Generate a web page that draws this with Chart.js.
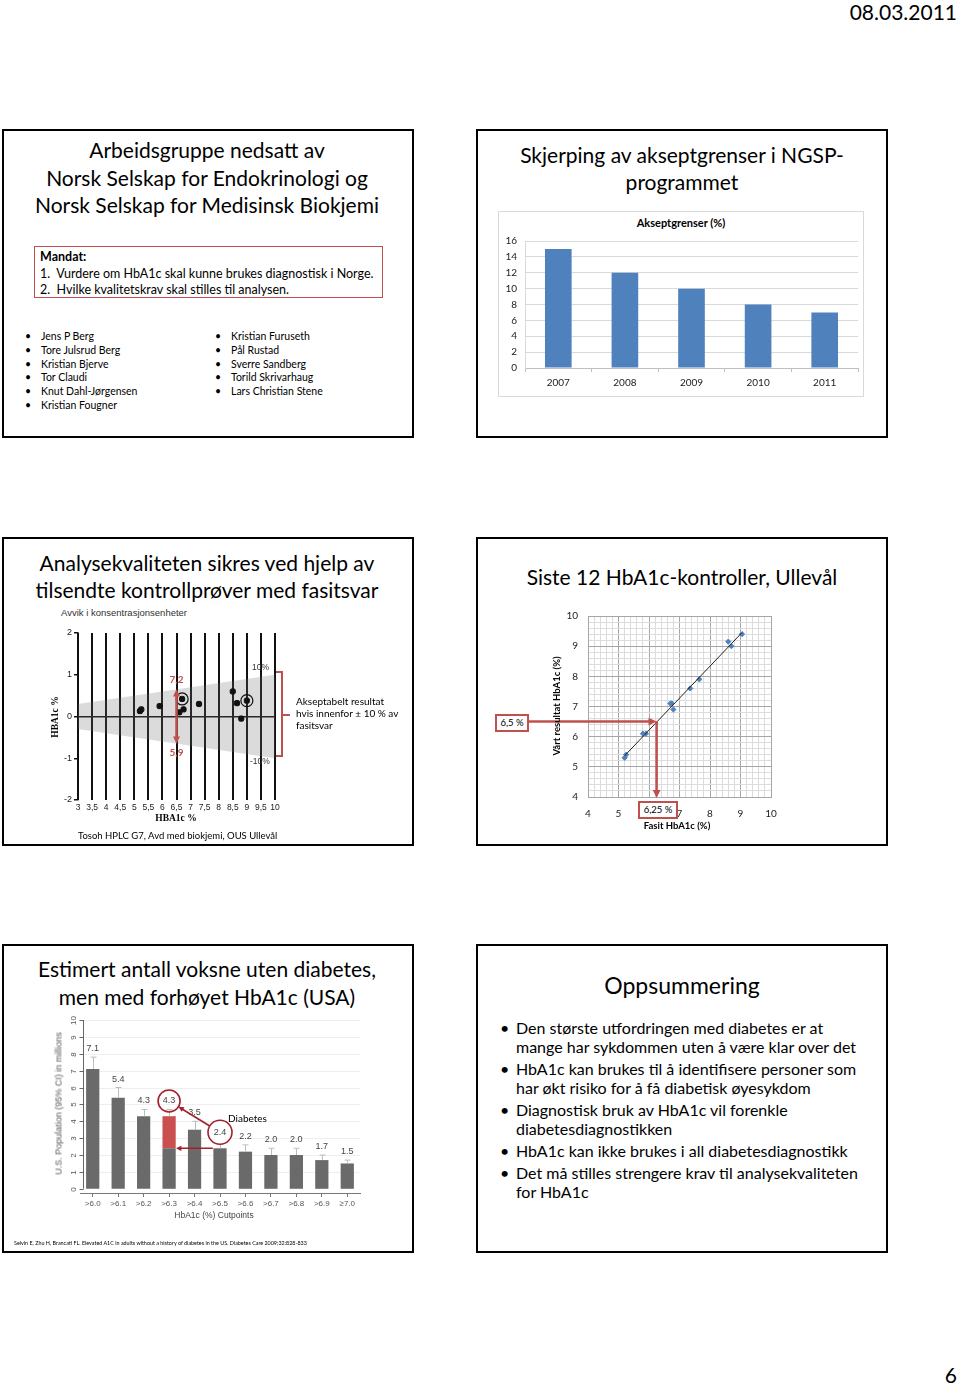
<!DOCTYPE html>
<html><head><meta charset="utf-8">
<script src="https://cdn.jsdelivr.net/npm/chart.js@4.4.0/dist/chart.umd.min.js"></script>
<style>
body{margin:0;background:#fff;}
#page{position:relative;width:960px;height:1384px;overflow:hidden;font-family:Lato,'Open Sans',sans-serif;color:#000;}
.slide{position:absolute;border:2px solid #000;box-sizing:border-box;background:#fff;}
.t{position:absolute;white-space:nowrap;}
.ctr{position:absolute;text-align:center;white-space:nowrap;}
.c{position:absolute;}
.rbox{position:absolute;border:2px solid #c0504d;box-sizing:border-box;background:#fff;font-size:9.5px;text-align:center;}
</style></head>
<body><div id="page">

<div class="t" style="right:3px;top:0px;font-size:21px;line-height:24px;">08.03.2011</div>
<div class="t" style="right:3px;top:1362px;font-size:21px;line-height:26px;">6</div>

<!-- Slide 1 -->
<div class="slide" style="left:2px;top:129px;width:412px;height:309px;"></div>
<div class="ctr" style="left:2px;width:410px;top:136px;font-size:21px;line-height:27.5px;">Arbeidsgruppe nedsatt av<br>Norsk Selskap for Endokrinologi og<br>Norsk Selskap for Medisinsk Biokjemi</div>
<div class="c" style="left:34px;top:246px;width:349px;height:52px;border:1.5px solid #c0504d;box-sizing:border-box;"></div>
<div class="t" style="left:40px;top:249px;font-size:12.5px;line-height:16.5px;"><b>Mandat:</b><br>1.&nbsp; Vurdere om HbA1c skal kunne brukes diagnostisk i Norge.<br>2.&nbsp; Hvilke kvalitetskrav skal stilles til analysen.</div>
<div id="names"></div>

<!-- Slide 2 -->
<div class="slide" style="left:476px;top:129px;width:412px;height:309px;"></div>
<div class="ctr" style="left:476px;width:412px;top:141px;font-size:21px;line-height:27px;">Skjerping av akseptgrenser i NGSP-<br>programmet</div>
<div class="c" style="left:498px;top:211px;width:366px;height:186px;border:1px solid #d9d9d9;box-sizing:border-box;"></div>
<div class="ctr" style="left:498px;width:366px;top:216px;font-size:11px;font-weight:bold;line-height:14px;">Akseptgrenser (%)</div>
<div class="c" style="left:499px;top:212px;width:364px;height:184px;"><canvas id="c2"></canvas></div>

<!-- Slide 3 -->
<div class="slide" style="left:2px;top:537px;width:412px;height:309px;"></div>
<div class="ctr" style="left:2px;width:410px;top:549px;font-size:21px;line-height:27px;">Analysekvaliteten sikres ved hjelp av<br>tilsendte kontrollprøver med fasitsvar</div>
<div class="t" style="left:61px;top:607px;font-size:9.5px;line-height:12px;font-family:'Liberation Sans',Arial,sans-serif;color:#333;">Avvik i konsentrasjonsenheter</div>
<div class="c" style="left:40px;top:605px;width:260px;height:225px;"><canvas id="c3"></canvas></div>
<div class="t" style="left:252px;top:662px;font-size:8.5px;line-height:11px;font-family:'Liberation Sans',Arial,sans-serif;color:#333;">10%</div>
<div class="t" style="left:250px;top:756px;font-size:8.5px;line-height:11px;font-family:'Liberation Sans',Arial,sans-serif;color:#333;">-10%</div>
<div class="c" style="left:276px;top:671px;width:7px;height:86px;border:2px solid #c0504d;border-left:none;box-sizing:border-box;"></div>
<div class="c" style="left:283px;top:714px;width:7px;height:2px;background:#c0504d;"></div>
<div class="t" style="left:296px;top:695px;font-size:10px;line-height:12px;">Akseptabelt resultat<br>hvis innenfor ± 10 % av<br>fasitsvar</div>
<div class="t" style="left:145px;top:812px;width:62px;text-align:center;font-size:9.5px;line-height:12px;font-weight:bold;font-family:'Liberation Serif',serif;">HBA1c %</div>
<div class="t" style="left:24px;top:711px;width:62px;text-align:center;font-size:9.5px;line-height:12px;font-weight:bold;font-family:'Liberation Serif',serif;transform:rotate(-90deg);">HBA1c %</div>
<div class="t" style="left:78px;top:830px;font-size:9.5px;line-height:12px;">Tosoh HPLC G7, Avd med biokjemi, OUS Ullevål</div>

<!-- Slide 4 -->
<div class="slide" style="left:476px;top:537px;width:412px;height:309px;"></div>
<div class="ctr" style="left:476px;width:412px;top:563px;font-size:21px;line-height:28px;">Siste 12 HbA1c-kontroller, Ullevål</div>
<div class="c" style="left:490px;top:600px;width:300px;height:235px;"><canvas id="c4"></canvas></div>
<div class="t" style="left:497px;top:700px;width:120px;text-align:center;font-size:9.5px;line-height:12px;font-weight:bold;transform:rotate(-90deg);">Vårt resultat HbA1c (%)</div>
<div class="ctr" style="left:617px;width:120px;top:820px;font-size:9.5px;line-height:12px;font-weight:bold;">Fasit HbA1c (%)</div>
<div class="rbox" style="left:495px;top:714px;width:34px;height:18px;line-height:14px;">6,5 %</div>
<div class="rbox" style="left:638px;top:801px;width:40px;height:18px;line-height:14px;">6,25 %</div>

<!-- Slide 5 -->
<div class="slide" style="left:2px;top:944px;width:412px;height:309px;"></div>
<div class="ctr" style="left:2px;width:410px;top:955px;font-size:21px;line-height:28px;">Estimert antall voksne uten diabetes,<br>men med forhøyet HbA1c (USA)</div>
<div class="c" style="left:40px;top:1012px;width:330px;height:215px;"><canvas id="c5"></canvas></div>
<div class="t" style="left:-31px;top:1098px;width:180px;text-align:center;font-size:9px;line-height:11px;color:#555;font-family:'Liberation Sans',Arial,sans-serif;transform:rotate(-90deg);">U.S. Population (95% CI) in millions</div>
<div class="ctr" style="left:154px;width:120px;top:1210px;font-size:8.5px;line-height:11px;color:#444;font-family:'Liberation Sans',Arial,sans-serif;">HbA1c (%) Cutpoints</div>
<div class="t" style="left:228px;top:1112px;font-size:10px;line-height:12px;">Diabetes</div>
<div class="t" style="left:14px;top:1240px;font-size:5.4px;line-height:7px;">Selvin E, Zhu H, Brancati FL. Elevated A1C in adults without a history of diabetes in the US. Diabetes Care 2009;32:828-833</div>

<!-- Slide 6 -->
<div class="slide" style="left:476px;top:944px;width:412px;height:309px;"></div>
<div class="ctr" style="left:476px;width:412px;top:970px;font-size:23px;line-height:30px;">Oppsummering</div>
<div id="summary"></div>

</div>
<script>
// ---------- data ----------
const namesLeft = ['Jens P Berg','Tore Julsrud Berg','Kristian Bjerve','Tor Claudi','Knut Dahl-Jørgensen','Kristian Fougner'];
const namesRight = ['Kristian Furuseth','Pål Rustad','Sverre Sandberg','Torild Skrivarhaug','Lars Christian Stene'];
const summaryBullets = [
  ['Den største utfordringen med diabetes er at','mange har sykdommen uten å være klar over det'],
  ['HbA1c kan brukes til å identifisere personer som','har økt risiko for å få diabetisk øyesykdom'],
  ['Diagnostisk bruk av HbA1c vil forenkle','diabetesdiagnostikken'],
  ['HbA1c kan ikke brukes i all diabetesdiagnostikk'],
  ['Det må stilles strengere krav til analysekvaliteten','for HbA1c']
];

// Slide 2: acceptance limits
const limitYears = ['2007','2008','2009','2010','2011'];
const limitValues = [15,12,10,8,7];

// Slide 3: EQA deviation plot
const eqaX = [5.2,5.25,5.9,6.6,6.7,6.75,7.3,8.5,8.65,8.8,9.0];
const eqaDev = [0.13,0.17,0.25,0.1,0.42,0.17,0.3,0.6,0.32,-0.05,0.38];
const eqaCircled = [false,false,false,false,true,false,false,false,false,false,true];
const eqaRange = [3,10];
const acceptLimit = 0.10;
const exampleX = 6.5;
const exampleHigh = '7,2', exampleLow = '5,9';
const exampleDev = 0.65;

// Slide 4: last 12 controls
const fasitHbA1c = [5.2,5.25,5.8,5.9,6.7,6.75,6.8,7.35,7.65,8.6,8.7,9.05];
const ourHbA1c   = [5.3,5.4,6.1,6.1,7.1,7.1,6.9,7.6,7.9,9.15,9.0,9.4];
const cutOurs = 6.5, cutFasit = 6.25;

// Slide 5: US population
const cutLabels = ['>6.0','>6.1','>6.2','>6.3','>6.4','>6.5','>6.6','>6.7','>6.8','>6.9','≥7.0'];
const population = [7.1,5.4,4.3,4.3,3.5,2.4,2.2,2.0,2.0,1.7,1.5];
const ciUpper = [7.8,6.0,4.7,4.7,4.0,2.9,2.6,2.4,2.4,2.0,1.7];
const highlightIndex = 3;   // >6.3
const diabetesIndex = 5;    // >6.5
const diabetesLevel = population[diabetesIndex];

// ---------- text lists ----------
(function(){
  const n = document.getElementById('names');
  let h = '';
  namesLeft.forEach((s,i)=>{ const y = 329 + i*13.8;
    h += `<div class="t" style="left:25px;top:${y}px;font-size:10.5px;line-height:14px;">•</div><div class="t" style="left:41px;top:${y}px;font-size:10.5px;line-height:14px;">${s}</div>`; });
  namesRight.forEach((s,i)=>{ const y = 329 + i*13.8;
    h += `<div class="t" style="left:215px;top:${y}px;font-size:10.5px;line-height:14px;">•</div><div class="t" style="left:231px;top:${y}px;font-size:10.5px;line-height:14px;">${s}</div>`; });
  n.innerHTML = h;
  const s = document.getElementById('summary');
  let y = 1018; h = '';
  summaryBullets.forEach(p=>{
    h += `<div class="t" style="left:500px;top:${y}px;font-size:16px;line-height:19px;">•</div>`;
    p.forEach(line=>{ h += `<div class="t" style="left:516px;top:${y}px;font-size:16px;line-height:19px;">${line}</div>`; y += 19; });
    y += 3;
  });
  s.innerHTML = h;
})();

const RED = '#c0504d';
function arrowHead(ctx, x1, y1, x2, y2, size){
  const a = Math.atan2(y2-y1, x2-x1);
  ctx.beginPath();
  ctx.moveTo(x2, y2);
  ctx.lineTo(x2 - size*Math.cos(a - 0.45), y2 - size*Math.sin(a - 0.45));
  ctx.lineTo(x2 - size*Math.cos(a + 0.45), y2 - size*Math.sin(a + 0.45));
  ctx.closePath(); ctx.fill();
}
function arrow(ctx, x1, y1, x2, y2, size){
  const a = Math.atan2(y2-y1, x2-x1);
  ctx.beginPath(); ctx.moveTo(x1,y1); ctx.lineTo(x2 - size*0.7*Math.cos(a), y2 - size*0.7*Math.sin(a)); ctx.stroke();
  arrowHead(ctx, x1, y1, x2, y2, size);
}

Chart.defaults.animation = false;
Chart.defaults.responsive = true;
Chart.defaults.maintainAspectRatio = false;
Chart.defaults.plugins.legend.display = false;
Chart.defaults.plugins.tooltip.enabled = false;

// ---------- Chart 2 ----------
new Chart(document.getElementById('c2'), {
  type: 'bar',
  data: { labels: limitYears, datasets: [{ data: limitValues, backgroundColor: '#4f81bd', barPercentage: 0.4, categoryPercentage: 1 }] },
  options: {
    layout: { padding: { top: 29, right: 5, left: 0, bottom: 8 } },
    scales: {
      x: { afterFit: s => { s.height = 20; },
           grid: { drawOnChartArea: false, tickLength: 4, color: '#bfbfbf' },
           border: { color: '#bfbfbf' },
           ticks: { padding: 5, color: '#222', font: { family: 'Lato', size: 10 } } },
      y: { min: 0, max: 16, afterFit: s => { s.width = 26; },
           grid: { color: '#d9d9d9', drawTicks: false },
           border: { color: '#d9d9d9' },
           ticks: { stepSize: 2, padding: 8, color: '#222', font: { family: 'Lato', size: 10 } } }
    }
  }
});

// ---------- Chart 3 ----------
const eqaPoints = eqaX.map((x,i)=>({x, y: eqaDev[i]}));
const eqaCirc = eqaPoints.filter((p,i)=>eqaCircled[i]);
const eqaTicks = [];
for (let v = eqaRange[0]; v <= eqaRange[1] + 1e-9; v += 0.5) eqaTicks.push(v);
const c3plugin = { id: 'c3p', afterDraw(chart){
  const {ctx, scales:{x,y}} = chart;
  const px = x.getPixelForValue(exampleX);
  const yt = y.getPixelForValue(exampleDev), yb = y.getPixelForValue(-exampleDev), y0 = y.getPixelForValue(0);
  ctx.save();
  ctx.strokeStyle = RED; ctx.fillStyle = RED; ctx.lineWidth = 2.5;
  arrow(ctx, px, y0, px, yt, 8);
  arrow(ctx, px, y0, px, yb, 8);
  ctx.font = 'bold 10px Lato'; ctx.textAlign = 'center'; ctx.textBaseline = 'middle';
  ctx.fillText(exampleHigh, px, y.getPixelForValue(0.87));
  ctx.fillText(exampleLow, px, y.getPixelForValue(-0.87));
  ctx.restore();
}};
new Chart(document.getElementById('c3'), {
  type: 'scatter',
  data: { datasets: [
    { data: eqaRange.map(v=>({x:v, y: acceptLimit*v})), order: 10, showLine: true, borderWidth: 0, pointRadius: 0, fill: '+1', backgroundColor: 'rgba(110,110,110,0.25)' },
    { data: eqaRange.map(v=>({x:v, y: -acceptLimit*v})), order: 11, showLine: true, borderWidth: 0, pointRadius: 0 },
    { data: eqaPoints, order: 1, pointStyle: 'rectRounded', pointRadius: 3, backgroundColor: '#111', borderColor: '#111' },
    { data: eqaCirc, order: 0, pointStyle: 'circle', pointRadius: 6, backgroundColor: 'rgba(0,0,0,0)', borderColor: '#111', borderWidth: 1.2 }
  ]},
  options: {
    layout: { padding: { top: 28, right: 25, left: 0, bottom: 10 } },
    scales: {
      x: { type: 'linear', min: 3, max: 10, afterFit: s => { s.height = 20; },
           afterBuildTicks: s => { s.ticks = eqaTicks.map(v=>({value:v})); },
           grid: { color: '#111', lineWidth: 2, drawTicks: false },
           border: { display: false },
           ticks: { autoSkip: false, maxRotation: 0, padding: 3, color: '#222', font: { family: 'Liberation Sans', size: 8.5 },
                    callback: v => String(v).replace('.', ',') } },
      y: { min: -2, max: 2, afterFit: s => { s.width = 38; },
           grid: { color: c => c.tick && c.tick.value === 0 ? '#111' : 'rgba(0,0,0,0)', lineWidth: 1.5, tickColor: '#111', tickLength: 4 },
           border: { color: '#111', width: 1.5 },
           ticks: { stepSize: 1, padding: 2, color: '#222', font: { family: 'Liberation Sans', size: 9 } } }
    }
  },
  plugins: [c3plugin]
});

// ---------- Chart 4 ----------
const ctrlPoints = fasitHbA1c.map((x,i)=>({x, y: ourHbA1c[i]}));
const n4 = fasitHbA1c.length;
const mx = fasitHbA1c.reduce((a,b)=>a+b,0)/n4, my = ourHbA1c.reduce((a,b)=>a+b,0)/n4;
let sxy = 0, sxx = 0;
for (let i=0;i<n4;i++){ sxy += (fasitHbA1c[i]-mx)*(ourHbA1c[i]-my); sxx += (fasitHbA1c[i]-mx)**2; }
const slope = sxy/sxx, icpt = my - slope*mx;
const xmin = Math.min(...fasitHbA1c), xmax = Math.max(...fasitHbA1c);
const trend = [{x:xmin, y: slope*xmin+icpt}, {x:xmax, y: slope*xmax+icpt}];
const isInt = v => Math.abs(v - Math.round(v)) < 1e-6;
const c4plugin = { id: 'c4p', afterDraw(chart){
  const {ctx, scales:{x,y}} = chart;
  const px = x.getPixelForValue(cutFasit), py = y.getPixelForValue(cutOurs);
  ctx.save();
  ctx.strokeStyle = RED; ctx.fillStyle = RED; ctx.lineWidth = 2.5;
  arrow(ctx, 39, py, px, py, 9);
  ctx.beginPath(); ctx.moveTo(px, py); ctx.lineTo(px, py+2); ctx.stroke();
  arrow(ctx, px, py, px, y.getPixelForValue(4)+1, 9);
  ctx.restore();
}};
new Chart(document.getElementById('c4'), {
  type: 'scatter',
  data: { datasets: [
    { data: trend, showLine: true, borderColor: '#222', borderWidth: 1, pointRadius: 0 },
    { data: ctrlPoints, pointStyle: 'rectRot', pointRadius: 2.6, backgroundColor: '#4f81bd', borderColor: '#4f81bd' }
  ]},
  options: {
    layout: { padding: { top: 16, right: 19, left: 0, bottom: 10 } },
    scales: {
      x: { type: 'linear', min: 4, max: 10, afterFit: s => { s.height = 28; },
           grid: { color: c => isInt(c.tick.value) ? '#a6a6a6' : '#dcdcdc', drawTicks: false },
           border: { color: '#a6a6a6' },
           ticks: { stepSize: 0.2, autoSkip: false, maxRotation: 0, padding: 11, color: '#222', font: { family: 'Lato', size: 10 },
                    callback: v => isInt(v) ? String(Math.round(v)) : '' } },
      y: { min: 4, max: 10, afterFit: s => { s.width = 98; },
           grid: { color: c => isInt(c.tick.value) ? '#a6a6a6' : '#dcdcdc', drawTicks: false },
           border: { color: '#a6a6a6' },
           ticks: { stepSize: 0.2, autoSkip: false, padding: 10, color: '#222', font: { family: 'Lato', size: 10 },
                    callback: v => isInt(v) ? String(Math.round(v)) : '' } }
    }
  },
  plugins: [c4plugin]
});

// ---------- Chart 5 ----------
const grayPart = population.map((v,i)=> i===highlightIndex ? Math.min(v, diabetesLevel) : v);
const redPart = population.map((v,i)=> i===highlightIndex ? [diabetesLevel, v] : null);
const yTicks5 = [0,1,2,3,4,5,6,7,8,9,10];
const c5plugin = { id: 'c5p',
  beforeDatasetsDraw(chart){
    const {ctx, chartArea, scales:{y}} = chart;
    ctx.save();
    ctx.strokeStyle = '#efefef'; ctx.lineWidth = 1;
    yTicks5.forEach(v=>{ if (v===0) return; const py = Math.round(y.getPixelForValue(v))+0.5;
      ctx.beginPath(); ctx.moveTo(chartArea.left+4, py); ctx.lineTo(chartArea.right, py); ctx.stroke(); });
    const ax = chartArea.left + 3.5;
    ctx.strokeStyle = '#666';
    ctx.beginPath(); ctx.moveTo(ax, y.getPixelForValue(0)); ctx.lineTo(ax, y.getPixelForValue(10)); ctx.stroke();
    ctx.fillStyle = '#555'; ctx.font = '8px "Liberation Sans"'; ctx.textAlign = 'center'; ctx.textBaseline = 'middle';
    yTicks5.forEach(v=>{ const py = Math.round(y.getPixelForValue(v))+0.5;
      ctx.beginPath(); ctx.moveTo(ax, py); ctx.lineTo(ax-4, py); ctx.stroke();
      ctx.save(); ctx.translate(ax-10, py); ctx.rotate(-Math.PI/2); ctx.fillText(String(v), 0, 0); ctx.restore(); });
    ctx.restore();
  },
  afterDatasetsDraw(chart){
    const {ctx, scales:{x,y}} = chart;
    ctx.save();
    ctx.strokeStyle = '#bdbdbd'; ctx.lineWidth = 1;
    population.forEach((v,i)=>{ if (ciUpper[i]==null) return;
      const px = Math.round(x.getPixelForValue(i))+0.5, y1 = y.getPixelForValue(v), y2 = y.getPixelForValue(ciUpper[i]);
      ctx.beginPath(); ctx.moveTo(px, y1); ctx.lineTo(px, y2); ctx.moveTo(px-3, y2); ctx.lineTo(px+3, y2); ctx.stroke(); });
    ctx.fillStyle = '#444'; ctx.font = '9px "Liberation Sans"'; ctx.textAlign = 'center'; ctx.textBaseline = 'middle';
    const lab = population.map((v,i)=>({x: x.getPixelForValue(i), y: y.getPixelForValue((ciUpper[i]==null? v : ciUpper[i]) + 0.5)}));
    population.forEach((v,i)=>{ if (i!==diabetesIndex) ctx.fillText(v.toFixed(1), lab[i].x, lab[i].y); });
    const DR = '#a31f2a';
    ctx.strokeStyle = DR; ctx.fillStyle = DR; ctx.lineWidth = 1.6;
    const cA = {x: lab[highlightIndex].x, y: lab[highlightIndex].y, r: 11};
    const cB = {x: lab[diabetesIndex].x, y: y.getPixelForValue(3.35), r: 12};
    ctx.fillStyle = '#fff'; ctx.beginPath(); ctx.arc(cB.x, cB.y, cB.r, 0, Math.PI*2); ctx.fill();
    ctx.fillStyle = '#444'; ctx.fillText(diabetesLevel.toFixed(1), cB.x, cB.y);
    ctx.fillStyle = DR;
    [cA, cB].forEach(c=>{ ctx.beginPath(); ctx.arc(c.x, c.y, c.r, 0, Math.PI*2); ctx.stroke(); });
    const a = Math.atan2(cA.y-cB.y, cA.x-cB.x);
    arrow(ctx, cB.x + cB.r*Math.cos(a), cB.y + cB.r*Math.sin(a), cA.x - cA.r*Math.cos(a), cA.y - cA.r*Math.sin(a), 6);
    const py = y.getPixelForValue(diabetesLevel);
    const bw = x.getPixelForValue(1) - x.getPixelForValue(0);
    arrow(ctx, x.getPixelForValue(diabetesIndex) - bw*0.28, py, x.getPixelForValue(highlightIndex) + bw*0.27, py, 6);
    ctx.restore();
  }
};
new Chart(document.getElementById('c5'), {
  type: 'bar',
  data: { labels: cutLabels, datasets: [
    { data: grayPart, backgroundColor: '#6a6a6a', barPercentage: 0.52, categoryPercentage: 1, grouped: false },
    { data: redPart, backgroundColor: '#c9504f', barPercentage: 0.52, categoryPercentage: 1, grouped: false }
  ]},
  options: {
    layout: { padding: { top: 8, right: 10, left: 0, bottom: 14 } },
    scales: {
      x: { afterFit: s => { s.height = 20; },
           grid: { drawOnChartArea: false, tickLength: 4, color: '#777', offset: false },
           border: { color: '#777' },
           ticks: { padding: 2, maxRotation: 0, autoSkip: false, color: '#555', font: { family: 'Liberation Sans', size: 8 } } },
      y: { min: -0.25, max: 10, afterFit: s => { s.width = 40; },
           grid: { display: false }, border: { display: false }, ticks: { display: false } }
    }
  },
  plugins: [c5plugin]
});
</script>
</body></html>
